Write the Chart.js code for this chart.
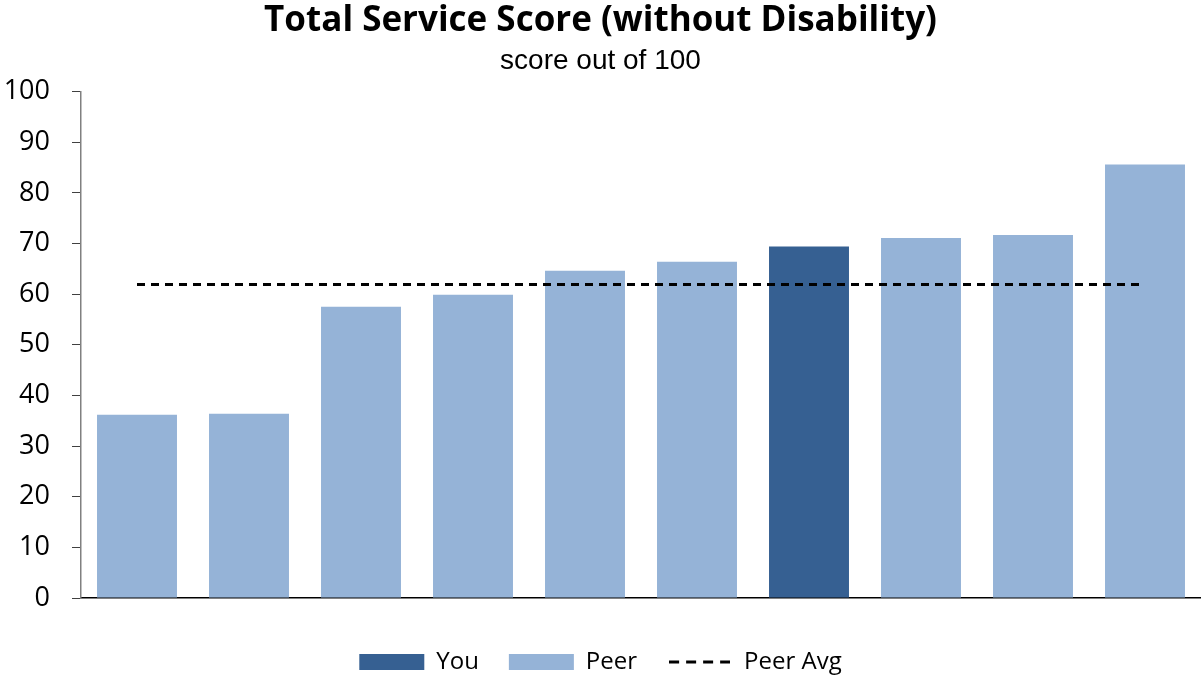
<!DOCTYPE html>
<html>
<head>
<meta charset="utf-8">
<script src="https://cdn.jsdelivr.net/npm/chart.js@4.4.1/dist/chart.umd.min.js"></script>
<style>
  html, body { margin: 0; padding: 0; background: #fff; }
  #wrap { width: 1201px; height: 677px; }
</style>
</head>
<body>
<div id="wrap"><canvas id="myChart"></canvas></div>
<script>
    // values, sorted low -> high
    const categories = ['', '', '', '', '', '', '', '', '', ''];
    const youValues = [null, null, null, null, null, null, 69.4, null, null, null];
    const peerValues = [36.2, 36.4, 57.5, 59.9, 64.6, 66.4, null, 71.1, 71.7, 85.6];
    const peerAvg = 61.9;
    const avgValues = categories.map(() => peerAvg);
    const yTicks = [0, 10, 20, 30, 40, 50, 60, 70, 80, 90, 100];

    const FONT = "'Open Sans', sans-serif";

    // dashed line sample for the legend (point styles don't get the dash)
    const dashIcon = document.createElement('canvas');
    dashIcon.width = 61;
    dashIcon.height = 4;
    const dctx = dashIcon.getContext('2d');
    dctx.strokeStyle = '#000';
    dctx.lineWidth = 3;
    dctx.setLineDash([10, 7]);
    dctx.beginPath();
    dctx.moveTo(0, 2);
    dctx.lineTo(61, 2);
    dctx.stroke();

    new Chart('myChart', {
        data: {
            labels: categories,
            datasets: [{
                type: 'line',
                label: 'Peer Avg',
                data: avgValues,
                borderColor: '#000000',
                backgroundColor: '#000000',
                borderWidth: 3,
                borderDash: [8, 6],
                pointRadius: 0,
                pointStyle: dashIcon,
                order: 0
            }, {
                type: 'bar',
                label: 'You',
                data: youValues,
                backgroundColor: '#366092',
                pointStyle: 'rect',
                order: 1
            }, {
                type: 'bar',
                label: 'Peer',
                data: peerValues,
                backgroundColor: '#95B3D7',
                pointStyle: 'rect',
                order: 2
            }]
        },
        options: {
            responsive: true,
            maintainAspectRatio: false,
            animation: false,
            skipNull: true,
            layout: { padding: { left: 0, right: 0, top: 0, bottom: -7 } },
            datasets: {
                bar: { categoryPercentage: 1, barPercentage: 0.714 }
            },
            plugins: {
                title: {
                    display: true,
                    text: 'Total Service Score (without Disability)',
                    color: '#000',
                    font: { family: FONT, size: 35, weight: 'bold' },
                    padding: { top: 0, bottom: 0 }
                },
                subtitle: {
                    display: true,
                    text: 'score out of 100',
                    color: '#000',
                    font: { family: "'Liberation Sans', Arial, sans-serif", size: 28 },
                    padding: { top: 2, bottom: 14 }
                },
                legend: {
                    position: 'bottom',
                    labels: {
                        usePointStyle: true,
                        pointStyleWidth: 65,
                        boxHeight: 16,
                        padding: 30,
                        color: '#000',
                        font: { family: FONT, size: 24 },
                        sort: (a, b) => ['You', 'Peer', 'Peer Avg'].indexOf(a.text) - ['You', 'Peer', 'Peer Avg'].indexOf(b.text)
                    }
                },
                tooltip: { enabled: false }
            },
            scales: {
                x: {
                    grid: { display: false },
                    border: { color: '#000', width: 1.5 },
                    ticks: { display: false },
                    afterFit: (axis) => { axis.height = 22; }
                },
                y: {
                    min: 0,
                    max: 100,
                    afterBuildTicks: (axis) => { axis.ticks = yTicks.map(v => ({ value: v })); },
                    afterFit: (axis) => { axis.width = 81; },
                    grid: {
                        drawOnChartArea: false,
                        drawTicks: true,
                        tickLength: 9,
                        color: '#404040'
                    },
                    border: { color: '#808080', width: 1.5 },
                    ticks: {
                        color: '#000',
                        padding: 22,
                        font: { family: FONT, size: 27 }
                    }
                }
            }
        }
    });
</script>
</body>
</html>
